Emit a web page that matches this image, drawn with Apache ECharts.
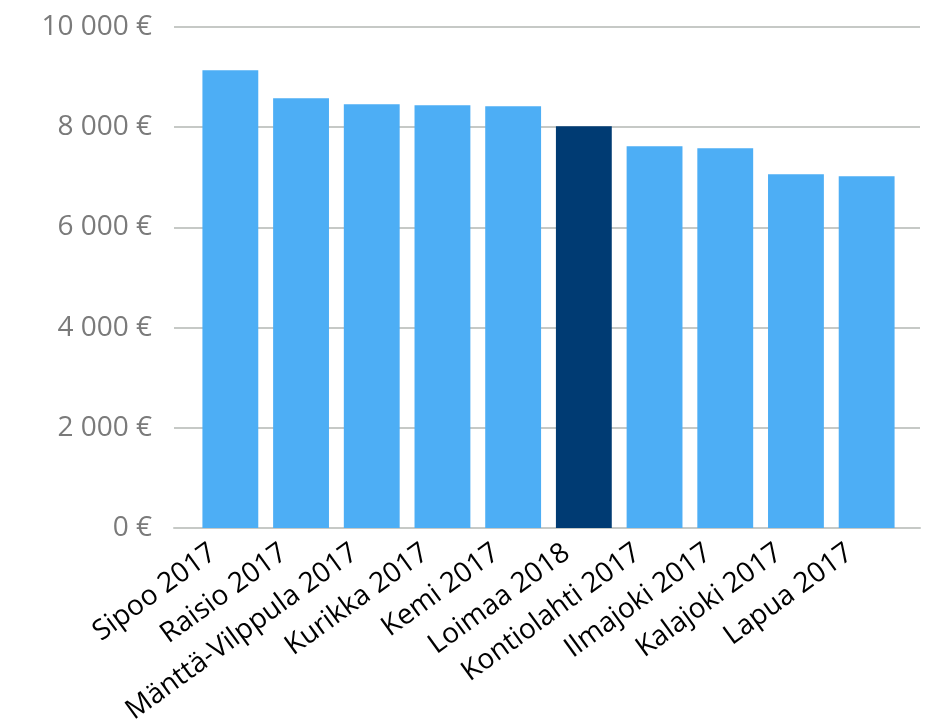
<!DOCTYPE html>
<html>
<head>
<meta charset="utf-8">
<style>
  html, body { margin: 0; padding: 0; background: #fff; }
  #chart { width: 932px; height: 725px; }
</style>
<script src="https://cdn.jsdelivr.net/npm/echarts@6/dist/echarts.min.js"></script>
</head>
<body>
<div id="chart"></div>
<script>
const categories = ['Sipoo 2017', 'Raisio 2017', 'Mänttä-Vilppula 2017', 'Kurikka 2017', 'Kemi 2017',
  'Loimaa 2018', 'Kontiolahti 2017', 'Ilmajoki 2017', 'Kalajoki 2017', 'Lapua 2017'];
const values = [9136, 8578, 8458, 8438, 8418, 8019, 7620, 7580, 7062, 7022];
const highlighted = 'Loimaa 2018';

const LIGHT = '#4daef5';
const DARK = '#003b73';
const FONT = '"Open Sans", "Noto Sans", sans-serif';

const fmt = v => String(v).replace(/\B(?=(\d{3})+(?!\d))/g, ' ') + ' €';

const chart = echarts.init(document.getElementById('chart'));

chart.setOption({
  animation: false,
  // grid 0: long gridlines + y labels, grid 1: bars, grid 2: category labels (sit a bit left of the bars)
  grid: [
    { left: 174, right: 12, top: 27, bottom: 197, outerBoundsMode: 'none' },
    { left: 195, right: 30, top: 27, bottom: 197, outerBoundsMode: 'none' },
    { left: 178, right: 47, top: 27, bottom: 197, outerBoundsMode: 'none' }
  ],
  xAxis: [
    {
      gridIndex: 0, type: 'category', data: categories,
      axisLine: { show: true, lineStyle: { color: '#c6c9c6', width: 2 } },
      axisTick: { show: false }, axisLabel: { show: false }
    },
    {
      gridIndex: 1, type: 'category', data: categories,
      axisLine: { show: false }, axisTick: { show: false }, axisLabel: { show: false }
    },
    {
      gridIndex: 2, type: 'category', data: categories,
      axisLine: { show: false }, axisTick: { show: false },
      axisLabel: {
        rotate: 36, margin: 22, interval: 0,
        color: '#000', fontFamily: FONT, fontSize: 28
      }
    }
  ],
  yAxis: [
    {
      gridIndex: 0, type: 'value', min: 0, max: 10000, interval: 2000,
      axisLine: { show: false }, axisTick: { show: false },
      axisLabel: { color: '#7a7a7a', fontFamily: FONT, fontSize: 28, margin: 22, formatter: fmt },
      splitLine: { lineStyle: { color: '#c6c9c6', width: 2 } }
    },
    {
      gridIndex: 1, type: 'value', min: 0, max: 10000, interval: 2000,
      show: false, splitLine: { show: false }
    },
    {
      gridIndex: 2, type: 'value', min: 0, max: 10000, interval: 2000,
      show: false, splitLine: { show: false }
    }
  ],
  series: [{
    type: 'bar',
    xAxisIndex: 1, yAxisIndex: 1,
    barCategoryGap: '21%',
    data: values.map((v, i) => ({
      value: v,
      itemStyle: { color: categories[i] === highlighted ? DARK : LIGHT }
    }))
  }]
});
</script>
</body>
</html>
